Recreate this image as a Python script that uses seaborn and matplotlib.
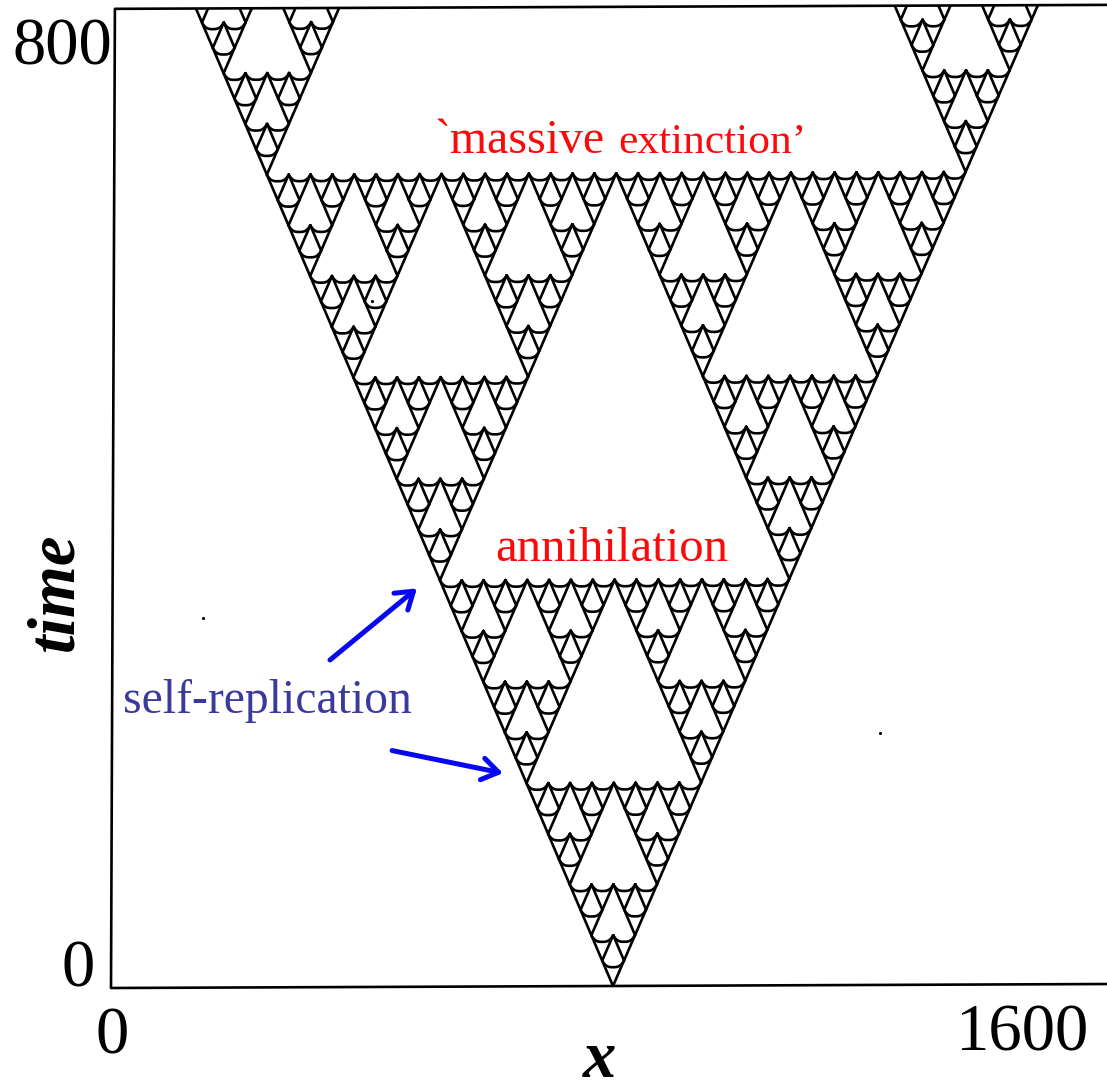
import numpy as np
import pandas as pd
import matplotlib
matplotlib.use("Agg")
import matplotlib.pyplot as plt
from matplotlib.patches import Polygon
import seaborn as sns

# values (x units, time units)
apex_x = 800.0
cell_height = 20.75     # height of the smallest triangle
cell_half_width = 17.4  # half width of the smallest triangle
arc_sag = 5.4
levels_main = 5
x_lim = [0, 1600]
time_lim = [0, 800]
# the scan is a bit rotated
tilt_x = 0.0078
tilt_t = 0.00205

# arrows: start and tip
arrow_starts = [(349, 268), (448, 194)]
arrow_tips = [(487.6, 326.5), (624.7, 175.5)]

# dust on the scan
speck_x = [146.6, 1225, 416]
speck_t = [302, 208, 561]

ink_blue = "#0808f0"
text_blue = "#3a3a9c"
text_red = "#fa0a0a"

rows = []
seg_id = 0


def tilted(x, t):
    return x + tilt_x * t, t + tilt_t * x


def add_seg(xs, ts):
    global seg_id
    for a, b in zip(xs, ts):
        xx, tt = tilted(a, b)
        rows.append((xx, tt, seg_id))
    seg_id += 1


def draw_cell(x0, t0):
    # V of the smallest triangle with the sagging front on top
    w = cell_half_width
    h = cell_height
    add_seg([x0 - w, x0, x0 + w], [t0 + h, t0, t0 + h])
    u = np.linspace(-1, 1, 21)
    add_seg(x0 + w * u, t0 + h - arc_sag * (1 - np.abs(u) ** 3))


def gasket(x0, t0, level):
    if t0 > time_lim[1]:
        return
    if level == 0:
        draw_cell(x0, t0)
        return
    n = 2 ** (level - 1)
    gasket(x0, t0, level - 1)
    gasket(x0 - n * cell_half_width, t0 + n * cell_height, level - 1)
    gasket(x0 + n * cell_half_width, t0 + n * cell_height, level - 1)


gasket(apex_x, 0.0, levels_main)
top = 2 ** levels_main
gasket(apex_x - top * cell_half_width, top * cell_height, levels_main)
gasket(apex_x + top * cell_half_width, top * cell_height, levels_main)

df = pd.DataFrame(rows, columns=["x", "time", "seg"])

sns.set_theme(style="white")
plt.rcParams["font.family"] = ["Liberation Serif", "DejaVu Serif"]
plt.rcParams["text.color"] = "black"

fig = plt.figure(figsize=(11.07, 10.91), dpi=100)
ax = fig.add_axes([111 / 1107, (1091 - 988) / 1091, (1115 - 111) / 1107, 991.4 / 1091])

sns.lineplot(data=df, x="x", y="time", units="seg", estimator=None, sort=False,
             color="black", linewidth=1.9, legend=False, ax=ax)

ax.set_xlim(x_lim)
ax.set_ylim(0, 810)

# frame follows the tilt of the scan too, and the pattern is cut off at it
corners = [tilted(x_lim[1], time_lim[1]), tilted(x_lim[0], time_lim[1]),
           tilted(x_lim[0], time_lim[0]), tilted(x_lim[1], time_lim[0])]
clip = Polygon(corners, transform=ax.transData, fill=False, edgecolor="none")
ax.add_patch(clip)
for ln in ax.lines:
    ln.set_clip_path(clip)

frame = pd.DataFrame(corners, columns=["x", "time"])
sns.lineplot(data=frame, x="x", y="time", estimator=None, sort=False,
             color="black", linewidth=1.9, legend=False, ax=ax, clip_on=False)
sns.scatterplot(x=speck_x, y=speck_t, color="black", s=5, linewidth=0, legend=False, ax=ax)

sns.despine(ax=ax, left=True, bottom=True)
ax.set_xticks([])
ax.set_yticks([])
ax.set_xlabel("")
ax.set_ylabel("")

big = 48
ax.text(1.6, -40, "0", fontsize=big, ha="center", va="center")
ax.text(1452, -37.5, "1600", fontsize=big, ha="center", va="center")
ax.text(-52, 15, "0", fontsize=big, ha="center", va="center")
ax.text(-78, 768, "800", fontsize=big, ha="center", va="center")
ax.text(779, -72.5, "x", fontsize=48, ha="center", va="baseline",
        style="italic", weight="bold", clip_on=False)
ax.text(-88, 324, "time", fontsize=48, ha="center", va="center", rotation=90,
        style="italic", weight="bold")

ax.text(787, 682.4, "`massive", fontsize=34.5, color=text_red, ha="right", va="baseline")
ax.text(808, 682.4, "extinction\u2019", fontsize=31.3, color=text_red, ha="left", va="baseline")
ax.text(798, 359, "annihilation", fontsize=35, color=text_red, ha="center", va="center")
ax.text(249, 234.5, "self-replication", fontsize=34.3, color=text_blue, ha="center", va="center")

for a, b in zip(arrow_starts, arrow_tips):
    ax.annotate("", xy=b, xytext=a,
                arrowprops=dict(arrowstyle="->,head_length=0.42,head_width=0.28", color=ink_blue,
                                lw=3.6, mutation_scale=28, shrinkA=0, shrinkB=0))

fig.savefig("out.png", dpi=100)
